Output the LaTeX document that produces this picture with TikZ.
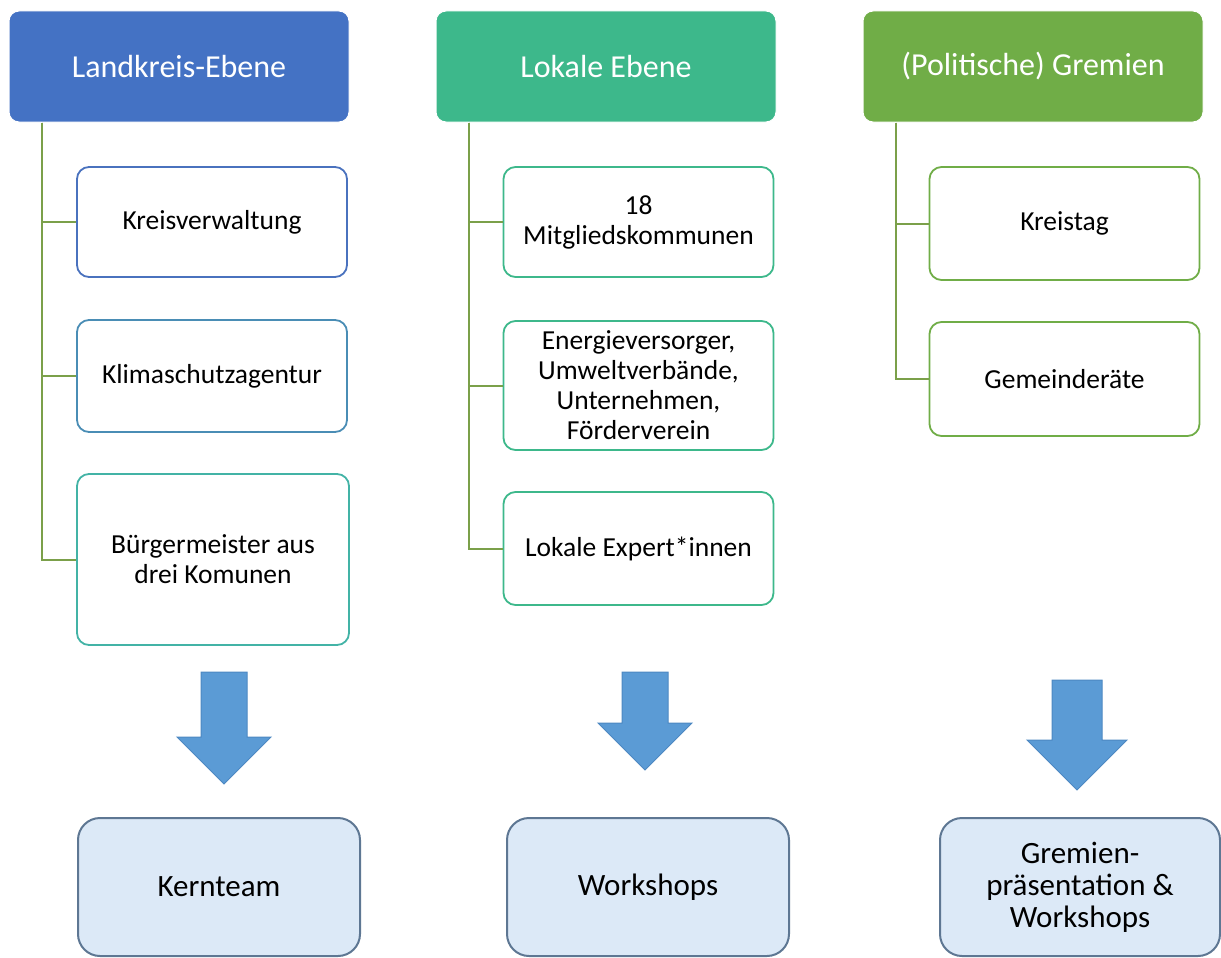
\documentclass[tikz,border=0pt]{standalone}
\usepackage{fontspec}
\setmainfont{Carlito}
\definecolor{hblue}{HTML}{4472C4}
\definecolor{hteal}{HTML}{3DB88B}
\definecolor{hgreen}{HTML}{70AD47}
\definecolor{connc}{HTML}{7BA04A}
\definecolor{bblue}{HTML}{4A72BE}
\definecolor{bblueteal}{HTML}{4A8DB5}
\definecolor{bteal}{HTML}{43B3A6}
\definecolor{arrowc}{HTML}{5B9BD5}
\definecolor{arrowline}{HTML}{4D88C2}
\definecolor{resfill}{HTML}{DCE9F7}
\definecolor{resline}{HTML}{5E7793}
\tikzset{
  hdr/.style={rounded corners=10pt, minimum width=340pt, minimum height=111pt, inner sep=0pt,
    text=white, font=\fontsize{32}{38}\selectfont, draw=white, line width=1pt},
  item/.style={rounded corners=12pt, draw, line width=1.8pt, fill=white, minimum width=270pt,
    align=center, font=\fontsize{27.5}{30}\selectfont, inner sep=0pt},
  res/.style={rounded corners=22pt, draw=resline, fill=resfill, line width=2pt, minimum width=282pt,
    minimum height=138pt, font=\fontsize{31}{32}\selectfont, align=center, inner sep=0pt},
  conn/.style={draw=connc, line width=2pt},
  blockarrow/.style={fill=arrowc, draw=arrowline, line width=1pt},
}
\begin{document}
\begin{tikzpicture}[x=1pt,y=-1pt]
\useasboundingbox (0,0) rectangle (1221,958);
% headers
\node[hdr, fill=hblue]  (h1) at (179,66.5)  {Landkreis-Ebene};
\node[hdr, fill=hteal]  (h2) at (606,66.5)  {Lokale Ebene};
\node[hdr, fill=hgreen] (h3) at (1033,66.5) {(Politische) Gremien};
% column 1
\node[item, draw=bblue, minimum height=110pt] (a1) at (212,222) {Kreisverwaltung};
\node[item, draw=bblueteal, minimum height=112pt] (a2) at (212,376) {Klimaschutzagentur};
\node[item, draw=bteal, minimum width=272pt, minimum height=171pt] (a3) at (213,559.5) {Bürgermeister aus\\drei Komunen};
% column 2
\node[item, draw=hteal, minimum height=110pt] (b1) at (638.5,222) {18\\Mitgliedskommunen};
\node[item, draw=hteal, minimum height=129pt] (b2) at (638.5,385.5) {Energieversorger,\\Umweltverbände,\\Unternehmen,\\Förderverein};
\node[item, draw=hteal, minimum height=113pt] (b3) at (638.5,548.5) {Lokale Expert*innen};
% column 3
\node[item, draw=hgreen, minimum height=113pt] (c1) at (1064.5,223.5) {Kreistag};
\node[item, draw=hgreen, minimum height=114pt] (c2) at (1064.5,379) {Gemeinderäte};
% connectors
\draw[conn] ([xshift=33pt]h1.south west) |- (a1.west);
\draw[conn] ([xshift=33pt]h1.south west) |- (a2.west);
\draw[conn] ([xshift=33pt]h1.south west) |- (a3.west);
\draw[conn] ([xshift=33pt]h2.south west) |- (b1.west);
\draw[conn] ([xshift=33pt]h2.south west) |- (b2.west);
\draw[conn] ([xshift=33pt]h2.south west) |- (b3.west);
\draw[conn] ([xshift=33pt]h3.south west) |- (c1.west);
\draw[conn] ([xshift=33pt]h3.south west) |- (c2.west);
% block arrows
\draw[blockarrow] (201,672) -- (247,672) -- (247,737) -- (271,737) -- (224,784) -- (177,737) -- (201,737) -- cycle;
\draw[blockarrow] (622,672) -- (668,672) -- (668,723) -- (692,723) -- (645,770) -- (598,723) -- (622,723) -- cycle;
\draw[blockarrow] (1052,680) -- (1102,680) -- (1102,740) -- (1127,740) -- (1077,790) -- (1027,740) -- (1052,740) -- cycle;
% results
\node[res] (r1) at (219,887) {Kernteam};
\node[res] (r2) at (648,887) {Workshops};
\node[res, minimum width=280pt] (r3) at (1080,887) {Gremien-\\präsentation \&\\Workshops};
\end{tikzpicture}
\end{document}
